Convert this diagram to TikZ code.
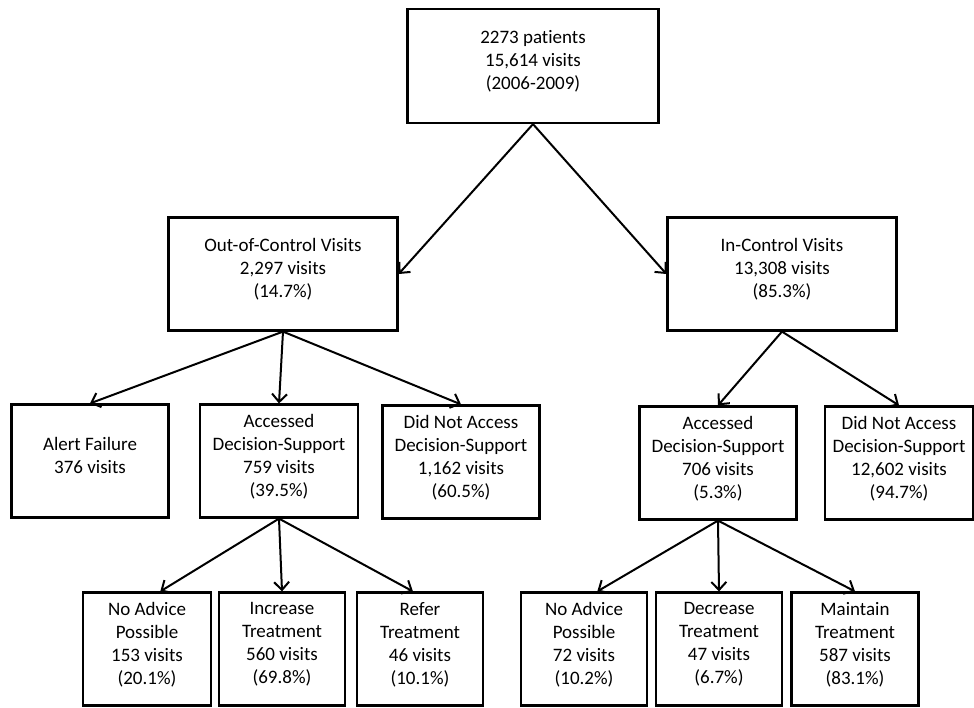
\documentclass[tikz,border=0pt]{standalone}
\usepackage{fontspec}
\setmainfont{Carlito}[Ligatures=NoCommon]
\usetikzlibrary{arrows.meta}

\tikzset{
    box/.style={draw, line width=2.2pt, align=center, inner sep=0pt, text depth=12pt,
        minimum height=113pt, font=\fontsize{19}{23}\selectfont},
    link/.style={line width=2pt, -{Straight Barb[length=8pt,width=15pt]}}
}

\begin{document}
\begin{tikzpicture}[x=1pt,y=-1pt]
        \useasboundingbox (0,0) rectangle (974,707);
        % top and the two control groups
        \node[box, minimum width=251pt, minimum height=114pt] (all) at (533,66) {2273 patients\\15,614 visits\\(2006-2009)};
        \node[box, minimum width=229pt] (out) at (283,274) {Out-of-Control Visits\\2,297 visits\\(14.7\%)};
        \node[box, minimum width=229pt] (in) at (782,274) {In-Control Visits\\13,308 visits\\(85.3\%)};
        % out-of-control branch
        \node[box, minimum width=157pt] (alert) at (90,461) {Alert Failure\\376 visits};
        \node[box, minimum width=158pt] (accL) at (279,461) {Accessed\\Decision-Support\\759 visits\\(39.5\%)};
        \node[box, minimum width=157pt] (notL) at (461,462) {Did Not Access\\Decision-Support\\1,162 visits\\(60.5\%)};
        \node[box, minimum width=128pt] (noL) at (147,649) {No Advice\\Possible\\153 visits\\(20.1\%)};
        \node[box, minimum width=126pt] (incL) at (282,649) {Increase\\Treatment\\560 visits\\(69.8\%)};
        \node[box, minimum width=126pt] (refL) at (420,649) {Refer\\Treatment\\46 visits\\(10.1\%)};
        % in-control branch
        \node[box, minimum width=157pt] (accR) at (718,463) {Accessed\\Decision-Support\\706 visits\\(5.3\%)};
        \node[box, minimum width=148pt] (notR) at (899,463) {Did Not Access\\Decision-Support\\12,602 visits\\(94.7\%)};
        \node[box, minimum width=126pt] (noR) at (584,649) {No Advice\\Possible\\72 visits\\(10.2\%)};
        \node[box, minimum width=126pt] (decR) at (719,649) {Decrease\\Treatment\\47 visits\\(6.7\%)};
        \node[box, minimum width=127pt] (mainR) at (855,649) {Maintain\\Treatment\\587 visits\\(83.1\%)};
        % connectors
        \draw[link] (all.south) -- (out.east);
        \draw[link] (all.south) -- (in.west);
        \foreach \t in {alert,accL,notL} {
            \draw[link] (out.south) -- (\t.north);
        }
        \foreach \t in {accR,notR} {
            \draw[link] (in.south) -- (\t.north);
        }
        \draw[link] (accL.south) -- (noL.77);
        \draw[link] (accL.south) -- (incL.north);
        \draw[link] (accL.south) -- (refL.97);
        \draw[link] (accR.south) -- (noR.77);
        \draw[link] (accR.south) -- (decR.north);
        \draw[link] (accR.south) -- (mainR.north);
    \end{tikzpicture}
\end{document}
